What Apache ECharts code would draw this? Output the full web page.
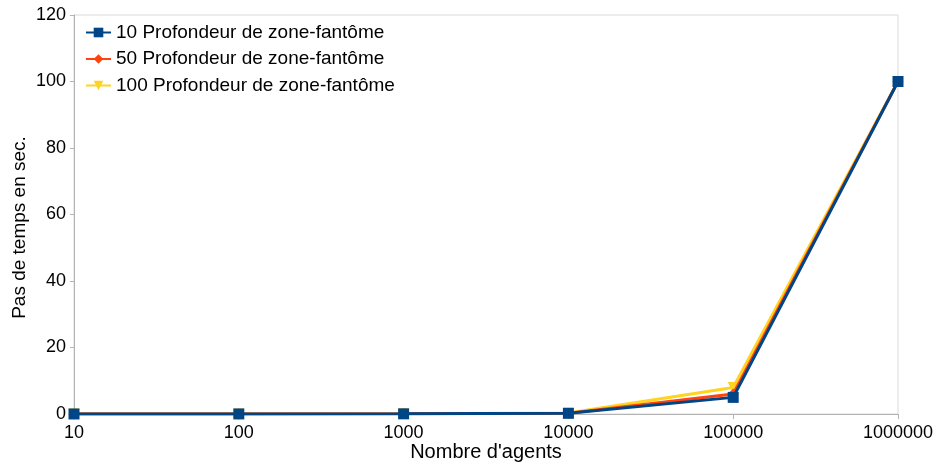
<!DOCTYPE html>
<html><head><meta charset="utf-8">
<script src="https://cdn.jsdelivr.net/npm/echarts@6/dist/echarts.min.js"></script>
<style>html,body{margin:0;padding:0;background:#fff}#c{width:939px;height:467px}</style>
</head><body><div id="c"></div>
<script>
const categories = ['10','100','1000','10000','100000','1000000'];
const seriesNames = ['10 Profondeur de zone-fantôme','50 Profondeur de zone-fantôme','100 Profondeur de zone-fantôme'];
const depth10 = [0.01, 0.02, 0.05, 0.2, 5, 100];
const depth50 = [0.01, 0.02, 0.06, 0.25, 6, 100];
const depth100 = [0.01, 0.03, 0.08, 0.3, 8, 100];
const yTicks = [0, 20, 40, 60, 80, 100, 120];

const font = 'Liberation Sans, Arial, sans-serif';
const chart = echarts.init(document.getElementById('c'));
chart.setOption({
  animation: false,
  textStyle: {fontFamily: font},
  grid: {left: 74, right: 41, top: 15, bottom: 53, show: true, borderColor: '#d9d9d9', borderWidth: 1,
         containLabel: false, outerBoundsMode: 'none'},
  legend: {
    orient: 'vertical', left: 85, top: 23, itemGap: 7.5, padding: 0,
    itemWidth: 25, itemHeight: 12,
    textStyle: {fontSize: 19, color: '#000', fontFamily: font},
    data: seriesNames
  },
  xAxis: {
    type: 'category', data: categories, boundaryGap: false,
    name: "Nombre d'agents", nameLocation: 'middle', nameGap: 28, nameMoveOverlap: false,
    nameTextStyle: {fontSize: 20, color: '#000'},
    axisLine: {lineStyle: {color: '#b3b3b3'}},
    axisTick: {show: true, length: 5, lineStyle: {color: '#b3b3b3'}, alignWithLabel: true},
    axisLabel: {fontSize: 18, color: '#000', margin: 10},
    splitLine: {show: false}
  },
  yAxis: {
    type: 'value', min: yTicks[0], max: yTicks[yTicks.length-1], interval: 20,
    name: 'Pas de temps en sec.', nameLocation: 'middle', nameGap: 45, nameMoveOverlap: false,
    nameTextStyle: {fontSize: 19, color: '#000', padding: [0, 26, 0, 0]},
    axisLine: {show: true, lineStyle: {color: '#b3b3b3'}},
    axisTick: {show: true, length: 4, lineStyle: {color: '#b3b3b3'}},
    axisLabel: {fontSize: 18, color: '#000', margin: 8},
    splitLine: {show: false}
  },
  series: [
    {name: seriesNames[0], type: 'line', data: depth10, z: 5,
     symbol: 'rect', symbolSize: 11, showAllSymbol: true,
     lineStyle: {width: 3, color: '#004586'}, itemStyle: {color: '#004586'}},
    {name: seriesNames[1], type: 'line', data: depth50, z: 4,
     symbol: 'diamond', symbolSize: 11, showAllSymbol: true,
     lineStyle: {width: 3, color: '#ff420e'}, itemStyle: {color: '#ff420e'}},
    {name: seriesNames[2], type: 'line', data: depth100, z: 3,
     symbol: 'triangle', symbolRotate: 180, symbolSize: 11, showAllSymbol: true,
     lineStyle: {width: 3, color: '#ffd320'}, itemStyle: {color: '#ffd320'}}
  ]
});
</script></body></html>
